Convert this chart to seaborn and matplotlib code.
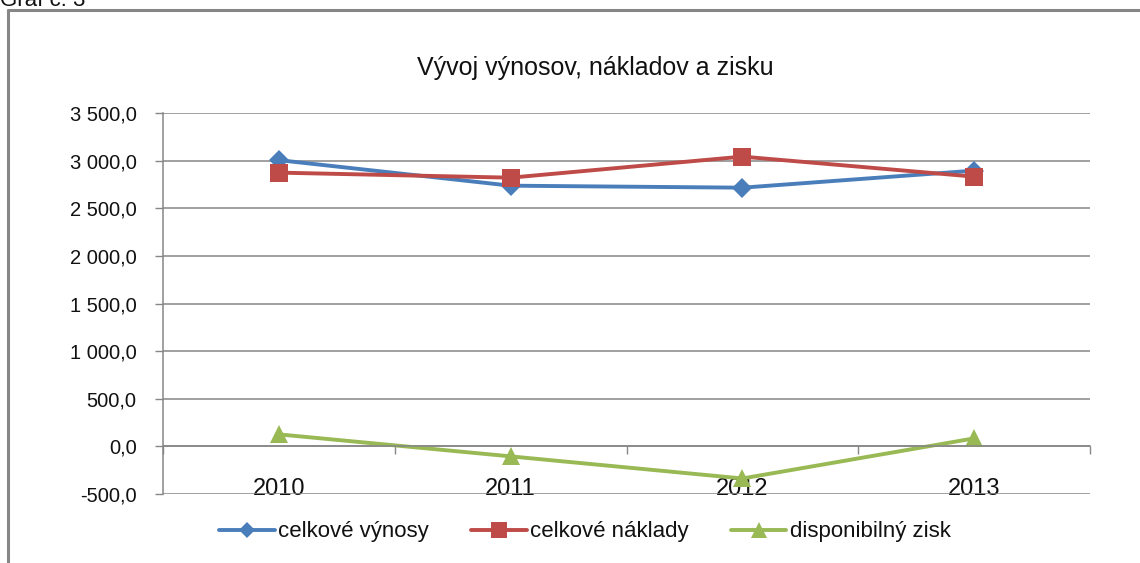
import matplotlib.pyplot as plt
import pandas as pd
import seaborn as sns
from matplotlib.lines import Line2D
from matplotlib.ticker import MultipleLocator, FuncFormatter, FixedLocator

# hodnoty odcitane z grafu
roky = ['2010', '2011', '2012', '2013']
vynosy = [3005, 2737, 2716, 2895]
naklady = [2874, 2821, 3042, 2832]
zisk = [126, -105, -337, 84]

serie = ['celkové výnosy', 'celkové náklady', 'disponibilný zisk']
farby = ['#4A7EBB', '#BE4B48', '#98B954']
znacky = ['D', 's', '^']
velkosti = [10, 13, 13]

df = pd.DataFrame({
    'rok': roky * 3,
    'hodnota': vynosy + naklady + zisk,
    'seria': [serie[0]] * 4 + [serie[1]] * 4 + [serie[2]] * 4,
})

sns.set_theme(style='white')
plt.rcParams['font.family'] = ['Liberation Sans', 'DejaVu Sans']

fig = plt.figure(figsize=(11.4, 5.63), dpi=100)
ax = fig.add_axes([163 / 1140, 1 - 494 / 563, (1090 - 163) / 1140, (494 - 113) / 563])

sns.lineplot(data=df, x='rok', y='hodnota', hue='seria', style='seria',
             palette=farby, markers=dict(zip(serie, znacky)), dashes=False,
             linewidth=2.8, markeredgewidth=0, ax=ax, legend=False, sort=False)
for line, ms in zip(ax.lines, velkosti):
    line.set_markersize(ms)

ax.set_xlim(-0.5, 3.5)
ax.set_ylim(-500, 3500)
ax.set_xlabel('')
ax.set_ylabel('')

grey = '#868686'
ax.yaxis.set_major_locator(MultipleLocator(500))
ax.yaxis.set_major_formatter(FuncFormatter(
    lambda v, p: f'{v:,.1f}'.replace(',', ' ').replace('.', ',')))
ax.grid(axis='y', color=grey, linewidth=1.1)
ax.set_axisbelow(True)

for s in ['top', 'right']:
    ax.spines[s].set_visible(False)
ax.spines['left'].set_color(grey)
ax.spines['left'].set_linewidth(1.1)
ax.spines['bottom'].set_position(('data', 0))
ax.spines['bottom'].set_color(grey)
ax.spines['bottom'].set_linewidth(1.1)

ax.tick_params(axis='y', which='major', left=True, length=6, width=1, color=grey,
               pad=13, labelsize=14.5, labelcolor='#111111')
ax.xaxis.set_minor_locator(FixedLocator([-0.5, 0.5, 1.5, 2.5, 3.5]))
ax.tick_params(axis='x', which='minor', bottom=True, length=6, width=1,
               color=grey, direction='out')
ax.tick_params(axis='x', which='major', bottom=True, length=0, pad=23,
               labelsize=17, labelcolor='#111111')

fig.text(595 / 1140, 1 - 68 / 563, 'Vývoj výnosov, nákladov a zisku',
         ha='center', va='center', fontsize=18, color='#111111')

handles = [Line2D([], [], color=c, marker=m, markersize=ms * 0.85, linewidth=2.8,
                  markeredgewidth=0) for c, m, ms in zip(farby, znacky, velkosti)]
fig.legend(handles, serie, loc='center', bbox_to_anchor=(585 / 1140, 1 - 532 / 563),
           ncol=3, frameon=False, fontsize=16, handlelength=2.5,
           handletextpad=0.15, columnspacing=1.9, labelcolor='#111111')

# ramcek okolo grafu
fig.add_artist(Line2D([8 / 1140, 8 / 1140], [0, 1 - 10 / 563], color=grey, linewidth=2.2,
                      transform=fig.transFigure))
fig.add_artist(Line2D([8 / 1140, 1], [1 - 10 / 563, 1 - 10 / 563], color=grey,
                      linewidth=2.2, transform=fig.transFigure))
fig.text(0.0, 1 - 6 / 563, 'Graf č. 3', ha='left', va='baseline', fontsize=16,
         color='#111111')

fig.savefig('out.png', dpi=100)
